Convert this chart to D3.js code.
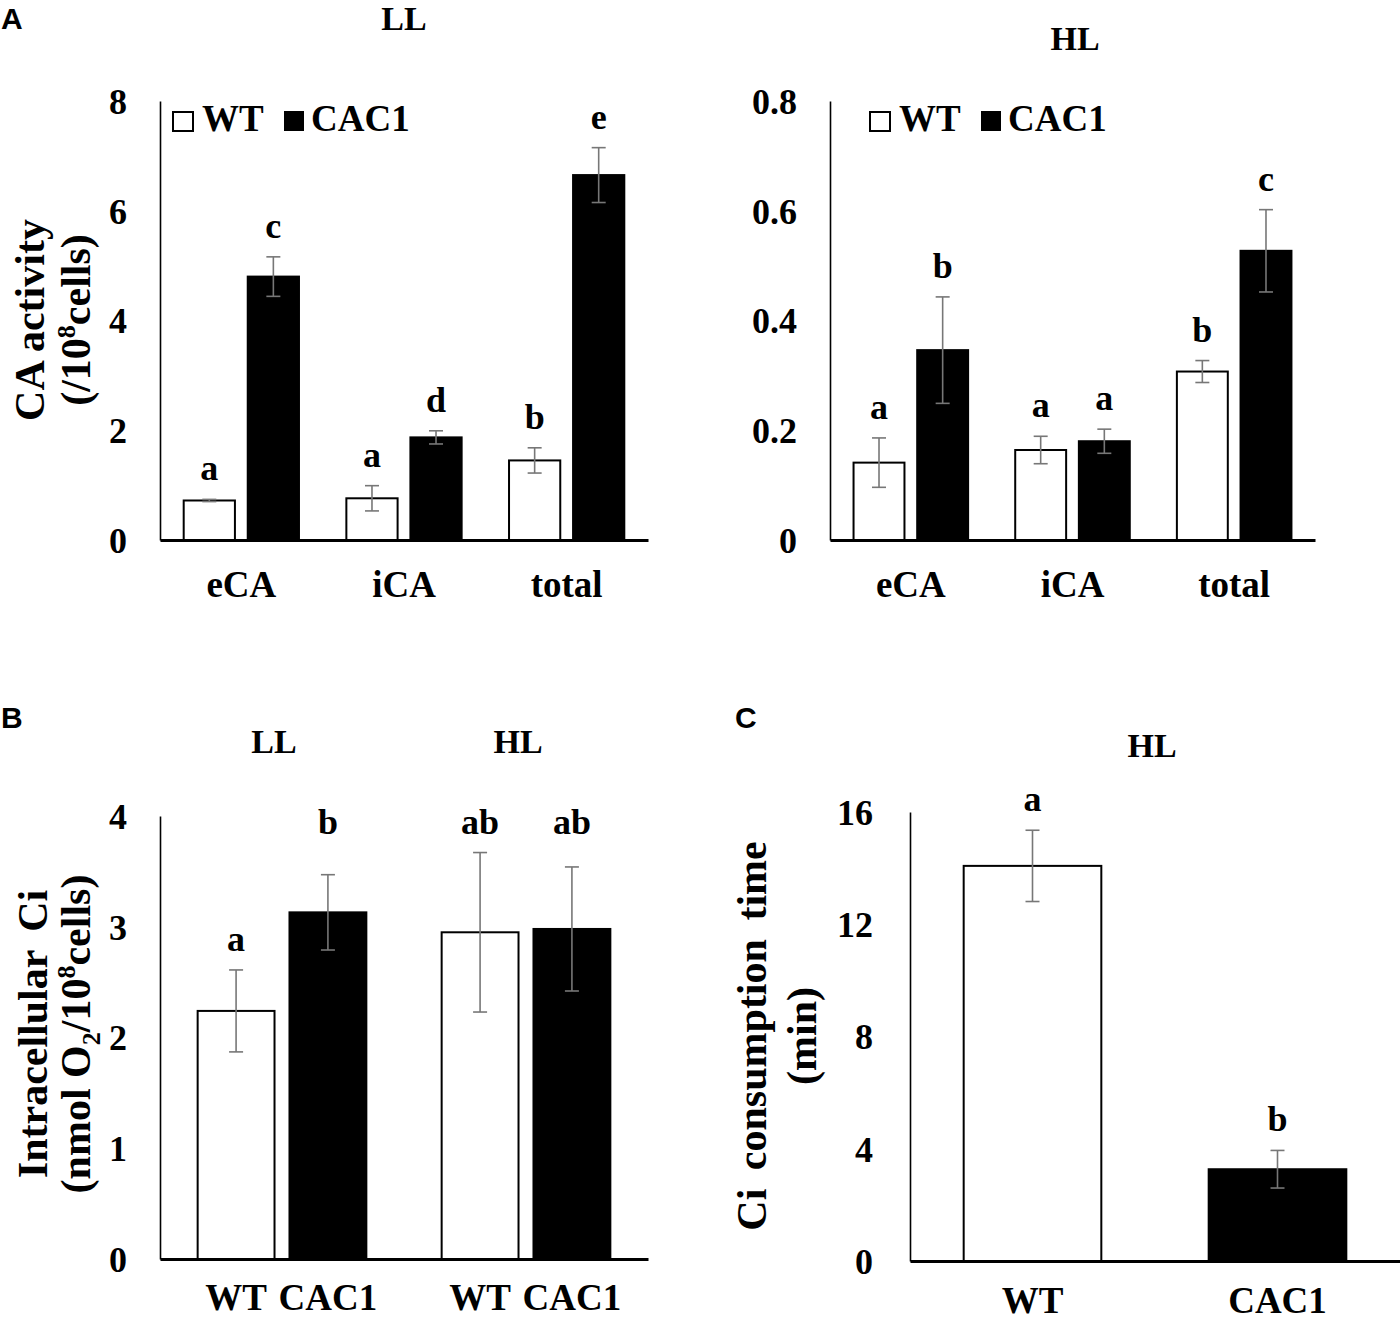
<!DOCTYPE html>
<html>
<head>
<meta charset="utf-8">
<script src="https://cdn.jsdelivr.net/npm/d3@7"></script>
<style>
  body { margin: 0; background: #fff; }
  svg { display: block; }
  text { font-family: "Liberation Serif", "Times New Roman", serif; font-weight: bold; fill: #000; }
  .panel-tag { font-family: "Liberation Sans", Arial, sans-serif; }
</style>
</head>
<body>
<svg id="fig" width="1400" height="1322"></svg>
<script>
// ---- data ----
var series = ["WT", "CAC1"];

// panel A : CA activity
var caCats = ["eCA", "iCA", "total"];
var llWT = [0.72, 0.76, 1.45];
var llWTErr = [0.02, 0.23, 0.23];
var llCAC1 = [4.80, 1.87, 6.65];
var llCAC1Err = [0.36, 0.12, 0.50];
var llWTLetters = ["a", "a", "b"];
var llCAC1Letters = ["c", "d", "e"];

var hlWT = [0.141, 0.164, 0.307];
var hlWTErr = [0.045, 0.025, 0.020];
var hlCAC1 = [0.346, 0.180, 0.527];
var hlCAC1Err = [0.097, 0.022, 0.075];
var hlWTLetters = ["a", "a", "b"];
var hlCAC1Letters = ["b", "a", "c"];

var ticksLL = [0, 2, 4, 6, 8];
var ticksHL = [0, 0.2, 0.4, 0.6, 0.8];

// panel B : intracellular Ci
var lightCats = ["LL", "HL"];
var ciWT = [2.24, 2.95];
var ciWTErr = [0.37, 0.72];
var ciCAC1 = [3.13, 2.98];
var ciCAC1Err = [0.34, 0.56];
var ciWTLetters = ["a", "ab"];
var ciCAC1Letters = ["b", "ab"];
var ticksCi = [0, 1, 2, 3, 4];

// panel C : Ci consumption time (HL)
var timeMean = [14.08, 3.27];
var timeErr = [1.27, 0.67];
var timeLetters = ["a", "b"];
var ticksTime = [0, 4, 8, 12, 16];

const svg = d3.select("#fig");
svg.append("rect").attr("width", 1400).attr("height", 1322).attr("fill", "#fff");

function rows(cats, wt, wtErr, cac, cacErr, wtLet, cacLet) {
  var out = [];
  cats.forEach(function (c, i) {
    out.push({ cat: c, key: "WT", value: wt[i], err: wtErr[i], letter: wtLet[i] });
    out.push({ cat: c, key: "CAC1", value: cac[i], err: cacErr[i], letter: cacLet[i] });
  });
  return out;
}

// generic grouped bar panel
function barPanel(opt) {
  const g = svg.append("g");
  const x = d3.scaleBand().domain(opt.cats).range(opt.xRange).paddingInner(opt.padIn || 0).paddingOuter(opt.padOut || 0);
  const y = d3.scaleLinear().domain([0, opt.ticks[opt.ticks.length - 1]]).range(opt.yRange);
  const xSub = d3.scaleBand().domain(opt.subs).range([0, x.bandwidth()])
    .paddingInner(opt.subIn).paddingOuter(opt.subOut);

  // y axis
  const ya = g.append("g")
    .attr("transform", `translate(${opt.xRange[0]},0)`)
    .call(d3.axisLeft(y).tickValues(opt.ticks).tickSize(0).tickSizeOuter(0).tickPadding(opt.tickPad)
      .tickFormat(function (d) { return String(d); }));
  ya.select(".domain").attr("stroke", "#000").attr("stroke-width", 1.6);
  ya.selectAll("text").attr("font-size", 36).attr("font-family", null).attr("dy", "0.34em");

  const xPos = function (d) { return x(d.cat) + xSub(d.sub || d.key); };

  // bars
  g.selectAll("rect.bar")
    .data(opt.data)
    .join("rect")
    .attr("class", "bar")
    .attr("x", xPos)
    .attr("y", function (d) { return y(d.value); })
    .attr("width", xSub.bandwidth())
    .attr("height", function (d) { return y(0) - y(d.value); })
    .attr("fill", function (d) { return d.key === "WT" ? "#fff" : "#000"; })
    .attr("stroke", "#000")
    .attr("stroke-width", 2);

  // error bars
  const eb = g.selectAll("g.err").data(opt.data).join("g").attr("class", "err")
    .attr("stroke", "#777").attr("stroke-width", 1.6);
  const cx = function (d) { return xPos(d) + xSub.bandwidth() / 2; };
  eb.append("line")
    .attr("x1", cx).attr("x2", cx)
    .attr("y1", function (d) { return y(d.value + d.err); })
    .attr("y2", function (d) { return y(d.value - d.err); });
  [1, -1].forEach(function (s) {
    eb.append("line")
      .attr("x1", function (d) { return cx(d) - 7; })
      .attr("x2", function (d) { return cx(d) + 7; })
      .attr("y1", function (d) { return y(d.value + s * d.err); })
      .attr("y2", function (d) { return y(d.value + s * d.err); });
  });

  // significance letters
  g.selectAll("text.letter")
    .data(opt.data)
    .join("text")
    .attr("class", "letter")
    .attr("x", cx)
    .attr("y", function (d) { return opt.letterY ? opt.letterY(d, y) : y(d.value + d.err) - 19; })
    .attr("text-anchor", "middle")
    .attr("font-size", 36)
    .text(function (d) { return d.letter; });

  // x axis
  const xa = g.append("g")
    .attr("transform", `translate(0,${opt.yRange[0]})`)
    .call(d3.axisBottom(x).tickSize(0).tickSizeOuter(0).tickPadding(opt.xPad));
  xa.select(".domain").attr("stroke", "#000").attr("stroke-width", 3);
  xa.selectAll("text").attr("font-size", 37).attr("font-family", null);
  if (opt.hideXText) xa.selectAll("text").remove();

  return { g: g, x: x, y: y, xSub: xSub, cx: cx };
}

function yLabel(x1, x2, yc, build1, build2) {
  const t1 = svg.append("text")
    .attr("transform", `translate(${x1},${yc}) rotate(-90)`)
    .attr("text-anchor", "middle").attr("font-size", 42);
  build1(t1);
  if (build2) {
    const t2 = svg.append("text")
      .attr("transform", `translate(${x2},${yc}) rotate(-90)`)
      .attr("text-anchor", "middle").attr("font-size", 42);
    build2(t2);
  }
}

function legend(x0, yBase) {
  svg.append("rect").attr("x", x0).attr("y", yBase - 19).attr("width", 20).attr("height", 19)
    .attr("fill", "#fff").attr("stroke", "#000").attr("stroke-width", 2);
  svg.append("text").attr("x", x0 + 29).attr("y", yBase).attr("font-size", 37).text(series[0]);
  svg.append("rect").attr("x", x0 + 111).attr("y", yBase - 20).attr("width", 20).attr("height", 20)
    .attr("fill", "#000");
  svg.append("text").attr("x", x0 + 138).attr("y", yBase).attr("font-size", 37).text(series[1]);
}

function title(x, y, s, size) {
  svg.append("text").attr("x", x).attr("y", y).attr("text-anchor", "middle")
    .attr("font-size", size || 34).text(s);
}

function tag(x, y, s) {
  svg.append("text").attr("class", "panel-tag").attr("x", x).attr("y", y)
    .attr("font-size", 30).text(s);
}

// ---------- Panel A, LL ----------
barPanel({
  cats: caCats, subs: series,
  data: rows(caCats, llWT, llWTErr, llCAC1, llCAC1Err, llWTLetters, llCAC1Letters),
  xRange: [160, 648], yRange: [540, 101], ticks: ticksLL,
  subIn: 0.2, subOut: 0.37, tickPad: 33, xPad: 31
});
title(404, 30, "LL");
legend(173, 131);

// ---------- Panel A, HL ----------
barPanel({
  cats: caCats, subs: series,
  data: rows(caCats, hlWT, hlWTErr, hlCAC1, hlCAC1Err, hlWTLetters, hlCAC1Letters),
  xRange: [830, 1315], yRange: [540, 101], ticks: ticksHL,
  subIn: 0.2, subOut: 0.37, tickPad: 33, xPad: 31
});
title(1075, 50, "HL");
legend(870, 131);

tag(1, 29, "A");
yLabel(44, 90, 320,
  function (t) { t.text("CA activity"); },
  function (t) {
    t.append("tspan").text("(/10");
    t.append("tspan").attr("font-size", 26).attr("dy", -15).text("8");
    t.append("tspan").attr("dy", 15).text("cells)");
  });

// ---------- Panel B ----------
var ciData = rows(lightCats, ciWT, ciWTErr, ciCAC1, ciCAC1Err, ciWTLetters, ciCAC1Letters);
var bTopB = d3.max(ciData.filter(function (d) { return d.letter.indexOf("b") >= 0; }),
  function (d) { return d.value + d.err; });
const pB = barPanel({
  cats: lightCats, subs: series, data: ciData,
  xRange: [160, 648], yRange: [1259, 816], ticks: ticksCi,
  subIn: 0.163, subOut: 0.41, tickPad: 33, xPad: 27, hideXText: true,
  letterY: function (d, y) {
    return d.letter.indexOf("b") >= 0 ? y(bTopB) - 19 : y(d.value + d.err) - 19;
  }
});
// per-bar strain labels under the axis and light labels above
pB.g.selectAll("text.strain")
  .data(ciData)
  .join("text")
  .attr("class", "strain")
  .attr("x", pB.cx)
  .attr("y", 1310)
  .attr("text-anchor", "middle")
  .attr("font-size", 37)
  .text(function (d) { return d.key; });
pB.g.selectAll("text.light")
  .data(lightCats)
  .join("text")
  .attr("class", "light")
  .attr("x", function (d) { return pB.x(d) + pB.x.bandwidth() / 2 - 8; })
  .attr("y", 753)
  .attr("text-anchor", "middle")
  .attr("font-size", 34)
  .text(function (d) { return d; });

tag(1, 728, "B");
yLabel(47, 90, 1034,
  function (t) { t.attr("word-spacing", 8).text("Intracellular Ci"); },
  function (t) {
    t.append("tspan").text("(nmol O");
    t.append("tspan").attr("font-size", 26).attr("dy", 10).text("2");
    t.append("tspan").attr("dy", -10).text("/10");
    t.append("tspan").attr("font-size", 26).attr("dy", -15).text("8");
    t.append("tspan").attr("dy", 15).text("cells)");
  });

// ---------- Panel C ----------
var timeData = series.map(function (s, i) {
  return { cat: s, key: s, sub: "bar", value: timeMean[i], err: timeErr[i], letter: timeLetters[i] };
});
barPanel({
  cats: series, subs: ["bar"], data: timeData,
  xRange: [910, 1400], yRange: [1261, 812], ticks: ticksTime,
  subIn: 0, subOut: 0.39, tickPad: 37, xPad: 26
});
title(1152, 757, "HL");
tag(735, 728, "C");
yLabel(766, 816, 1036,
  function (t) { t.attr("word-spacing", 8).text("Ci consumption time"); },
  function (t) { t.text("(min)"); });
</script>
</body>
</html>
